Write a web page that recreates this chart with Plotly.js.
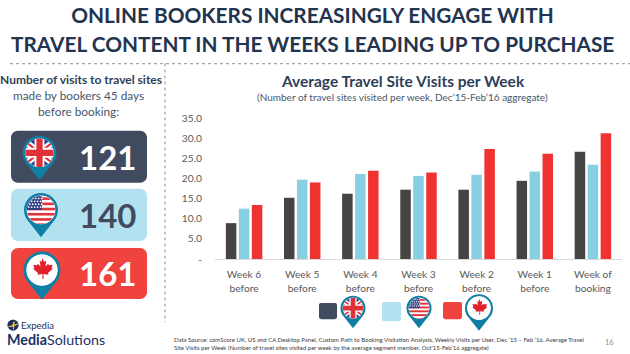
<!DOCTYPE html>
<html><head><meta charset="utf-8">
<script src="https://cdn.plot.ly/plotly-3.0.1.min.js"></script>
<style>html,body{margin:0;padding:0;background:#fff;overflow:hidden}#c{width:630px;height:354px}</style>
</head><body><div id="c"></div>
<script>
var categories = ['Week 6<br>before','Week 5<br>before','Week 4<br>before','Week 3<br>before','Week 2<br>before','Week 1<br>before','Week of<br>booking'];
var ukValues = [8.9,15.2,16.2,17.2,17.2,19.4,26.6];
var usValues = [12.5,19.7,21.1,20.6,20.9,21.7,23.4];
var caValues = [13.4,19.0,21.9,21.5,27.3,26.1,31.2];
var yTickVals = [0,5,10,15,20,25,30,35];
var yTickText = ['-','5.0','10.0','15.0','20.0','25.0','30.0','35.0'];
var panelValues = ['121','140','161'];

var W=630,H=354,FONT='Lato, sans-serif',INK='#2F3F58',GREY='#595959',TITLE='#22344F';
var L=215,R=8,T=118.3,B=95;
function px(x){return (x-L)/(W-L-R);}
function py(y){return (H-B-y)/(H-B-T);}
function svgUri(w,h,body){return 'data:image/svg+xml;charset=utf-8,'+encodeURIComponent('<svg xmlns="http://www.w3.org/2000/svg" width="'+w+'" height="'+h+'" viewBox="0 0 '+w+' '+h+'">'+body+'</svg>');}

var leaf='M20 7.5l2.2 4 2.2-1-.9 6 2.9-2.9.7 1.6 3.7-.6-1 3.5 1.3.7-5 4.2.6 1.9-5.2-.7.1 5h-1.2l.1-5-5.2.7.6-1.9-5-4.2 1.3-.7-1-3.5 3.7.6.7-1.6 2.9 2.9-.9-6 2.2 1z';
var flags={
 uk:'<rect width="40" height="40" fill="#2C3E86"/><path d="M0 4L40 36M40 4L0 36" stroke="#fff" stroke-width="7"/><path d="M0 4L40 36M40 4L0 36" stroke="#E03138" stroke-width="2.5"/><path d="M20 0V40M0 20H40" stroke="#fff" stroke-width="11"/><path d="M20 0V40M0 20H40" stroke="#E03138" stroke-width="7"/>',
 us:(function(){var s='<rect width="40" height="40" fill="#fff"/>';for(var i=0;i<6;i++){s+='<rect y="'+(6+i*5.8)+'" width="40" height="2.9" fill="#E0333A"/>';}s+='<rect width="21" height="20" fill="#2C3E86"/>';for(var r=0;r<5;r++){for(var c=0;c<6;c++){s+='<circle cx="'+(3+c*3.3+(r%2)*1.2)+'" cy="'+(4+r*3.2)+'" r="1" fill="#fff"/>';}}return s;})(),
 ca:'<rect width="40" height="40" fill="#fff"/><path d="'+leaf+'" fill="#E2202C"/>'
};
function pin(kind,cx,cy,r){
 var s=r/19,w=40*s,h=52*s;
 var body='<defs><clipPath id="k"><circle cx="20" cy="20" r="15.8"/></clipPath></defs>'+
  '<path d="M20 50.5L6.5 33.5A19 19 0 1 1 33.5 33.5Z" fill="#0F7FA6"/>'+
  '<circle cx="20" cy="20" r="16" fill="#fff"/><g clip-path="url(#k)">'+flags[kind]+'</g>';
 return {source:svgUri(40,52,body),xref:'paper',yref:'paper',x:px(cx-20*s),y:py(cy-20*s),
  sizex:w/(W-L-R),sizey:h/(H-B-T),xanchor:'left',yanchor:'top',sizing:'stretch',layer:'above'};
}
function rr(x0,y0,x1,y1,r){
 var k=r*.45,p=function(x,y){return px(x)+','+py(y);};
 return 'M'+p(x0+r,y0)+'L'+p(x1-r,y0)+'C'+p(x1-k,y0)+' '+p(x1,y0+k)+' '+p(x1,y0+r)+'L'+p(x1,y1-r)+'C'+p(x1,y1-k)+' '+p(x1-k,y1)+' '+p(x1-r,y1)+'L'+p(x0+r,y1)+'C'+p(x0+k,y1)+' '+p(x0,y1-k)+' '+p(x0,y1-r)+'L'+p(x0,y0+r)+'C'+p(x0,y0+k)+' '+p(x0+k,y0)+' '+p(x0+r,y0)+'Z';
}
function box(x0,y0,x1,y1,r,fill){return {type:'path',xref:'paper',yref:'paper',path:rr(x0,y0,x1,y1,r),fillcolor:fill,line:{width:0},layer:'below'};}
function dots(x0,y0,x1,y1){return {type:'line',xref:'paper',yref:'paper',x0:px(x0),y0:py(y0),x1:px(x1),y1:py(y1),line:{color:'#A6A6A6',width:1.3,dash:'dot'}};}
function note(t,x,y,size,color,anchor,weight){return {text:t,xref:'paper',yref:'paper',x:px(x),y:py(y),xanchor:anchor||'center',yanchor:'middle',showarrow:false,align:anchor||'center',borderpad:0,font:{family:FONT,size:size,color:color,weight:weight||400}};}

var shapes=[
 dots(10,64,630,64),dots(165,64,165,322),
 box(11,131,147,183,7,'#414B5F'),box(11,189,147,241,7,'#B2E2F0'),box(11,248,147,299,7,'#F0433D'),
 box(319,303,337,319,2,'#414B5F'),box(382,302,401,321,2,'#B2E2F0'),box(443,302,462,319,2,'#F0433D')
];
var images=[
 pin('uk',39.5,153,17),pin('us',41,210,17),pin('ca',42,270,18.5),
 pin('uk',353,308,12.5),pin('us',419,308,12.5),pin('ca',479,308,14),
 {source:svgUri(14,14,'<circle cx="7" cy="7" r="6.5" fill="#1D3161"/><path d="M1 8.5L6 7 8 2.5 9 2.5 8.7 6.3 12.5 5 13 6 8.6 8 8 12 7 12 6.8 8.6 2 9.5Z" fill="#F5C23C"/>'),xref:'paper',yref:'paper',x:px(7),y:py(319),sizex:12/(W-L-R),sizey:12/(H-B-T),xanchor:'left',yanchor:'top',sizing:'stretch',layer:'above'}
];
var annotations=[
 note('TRAVEL CONTENT IN THE WEEKS LEADING UP TO PURCHASE',312.5,44,20.8,TITLE,'center',700),
 note('Average Travel Site Visits per Week',402.5,81,15.5,INK,'center',700),
 note('(Number of travel sites visited per week, Dec’15-Feb’16 aggregate)',402.5,97,10,'#47566B'),
 note('Number of visits to travel sites',80.5,80,12,INK,'center',700),
 note('made by bookers 45 days',78,96,11.8,'#47566B'),
 note('before booking:',78,112,11.8,'#47566B'),
 note(panelValues[0],107,157,33,'#FFFFFF','center',700),
 note(panelValues[1],107,215,33,'#414B5F','center',700),
 note(panelValues[2],107,273,33,'#FFFFFF','center',700),
 note('Expedia',20,325,9.5,'#1D3161','left'),
 note('<b>Media</b>Solutions',6,339,14.3,'#1D3161','left'),
 note('Data Source: comScore UK, US and CA Desktop Panel, Custom Path to Booking Visitation Analysis, Weekly Visits per User, Dec ’15 – Feb ’16. Average Travel',173,339,6,'#3B3B3B','left'),
 note('Site Visits per Week (Number of travel sites visited per week by the average segment member, Oct’15-Feb’16 aggregate)',173,347,6,'#3B3B3B','left'),
 note('16',609,342,7.5,'#8C8C8C')
];
function series(name,vals,color){return {type:'bar',name:name,x:categories,y:vals,marker:{color:color},hoverinfo:'x+y+name'};}
var data=[series('UK',ukValues,'#444444'),series('US',usValues,'#89CFE2'),series('CA',caValues,'#EE3330')];
var layout={
 width:W,height:H,paper_bgcolor:'#fff',plot_bgcolor:'rgba(0,0,0,0)',showlegend:false,
 margin:{l:L,r:R,t:T,b:B,pad:0},barmode:'group',bargap:0.33,bargroupgap:0.19,
 title:{text:'ONLINE BOOKERS INCREASINGLY ENGAGE WITH',x:0.496,xanchor:'center',y:0.956,yanchor:'middle',font:{family:FONT,size:20.8,color:TITLE,weight:700}},
 xaxis:{type:'category',showgrid:false,zeroline:false,showline:true,linecolor:'#D9D9D9',linewidth:1,ticks:'',tickfont:{family:FONT,size:10.2,color:GREY},ticklabelstandoff:6,fixedrange:true},
 yaxis:{range:[0,35],tickvals:yTickVals,ticktext:yTickText,showgrid:false,zeroline:false,showline:false,ticks:'outside',ticklen:10,tickcolor:'rgba(0,0,0,0)',tickfont:{family:FONT,size:10.2,color:GREY},fixedrange:true},
 shapes:shapes,images:images,annotations:annotations
};
Plotly.newPlot('c',data,layout,{displayModeBar:false,staticPlot:true});
</script></body></html>
